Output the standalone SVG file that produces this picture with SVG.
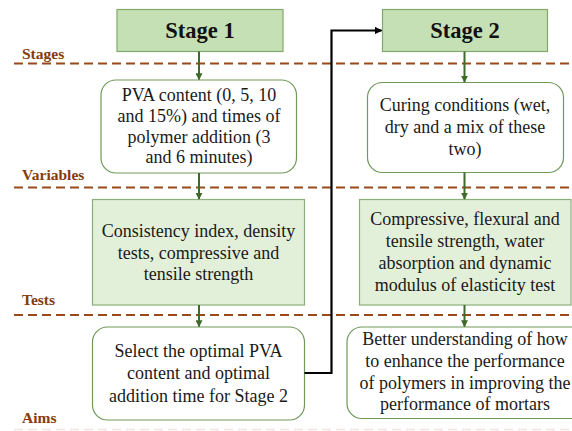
<svg xmlns="http://www.w3.org/2000/svg" width="572" height="431" viewBox="0 0 572 431">
<style>
.bg{fill:#ffffff}
.stage{fill:#c5e0b4;stroke:#82a86b;stroke-width:1.2}
.var{fill:#ffffff;stroke:#6f9a59;stroke-width:1.2}
.test{fill:#e2efd9;stroke:#8cb07a;stroke-width:1.2}
.t{font-family:"Liberation Serif","Times New Roman",serif;font-size:18px;fill:#1a1a1a;text-anchor:middle}
.h{font-family:"Liberation Serif","Times New Roman",serif;font-size:22.5px;font-weight:bold;fill:#111;text-anchor:middle}
.lab{font-family:"Liberation Serif","Times New Roman",serif;font-size:15.5px;font-weight:bold;fill:#843c0c}
.dash{stroke:#9a4a1a;stroke-width:2;stroke-dasharray:9,5;fill:none}
.arr{stroke:#3d6b2a;stroke-width:2;fill:none;marker-end:url(#ga)}
</style>
<defs>
<marker id="ga" viewBox="0 0 10 10" refX="9" refY="5" markerWidth="3.5" markerHeight="3.5" orient="auto" markerUnits="strokeWidth"><path d="M0,0L10,5L0,10z" fill="#3d6b2a"/></marker>
<marker id="ka" viewBox="0 0 10 10" refX="9" refY="5" markerWidth="3.5" markerHeight="3.5" orient="auto" markerUnits="strokeWidth"><path d="M0,0L10,5L0,10z" fill="#000"/></marker>
</defs>
<rect class="bg" x="0" y="0" width="572" height="431"/>
<g id="lanes">
<line class="dash" x1="14" y1="63.5" x2="572" y2="63.5"/>
<line class="dash" x1="14" y1="187.5" x2="572" y2="187.5"/>
<line class="dash" x1="14" y1="315" x2="572" y2="315"/>
<line x1="14" y1="429.5" x2="572" y2="429.5" stroke="#f2e4e0" stroke-width="1.5" stroke-dasharray="9,5"/>
<text class="lab" x="22" y="59">Stages</text>
<text class="lab" x="22" y="180">Variables</text>
<text class="lab" x="22" y="305">Tests</text>
<text class="lab" x="22" y="423">Aims</text>
</g>
<g id="stage1">
<rect class="stage" x="117" y="9.5" width="166" height="42"/>
<text class="h" x="200" y="38">Stage 1</text>
</g>
<g id="stage2">
<rect class="stage" x="382.5" y="9.5" width="165" height="42"/>
<text class="h" x="465" y="38">Stage 2</text>
</g>
<g id="var1">
<rect class="var" x="101" y="80" width="195.5" height="93" rx="15"/>
<text class="t" x="199" y="101">PVA content (0, 5, 10</text>
<text class="t" x="199" y="122">and 15%) and times of</text>
<text class="t" x="199" y="142.5">polymer addition (3</text>
<text class="t" x="199" y="163">and 6 minutes)</text>
</g>
<g id="var2">
<rect class="var" x="367.5" y="82.5" width="196" height="90" rx="15"/>
<text class="t" x="465" y="111">Curing conditions (wet,</text>
<text class="t" x="465" y="133">dry and a mix of these</text>
<text class="t" x="465" y="155">two)</text>
</g>
<g id="test1">
<rect class="test" x="92.5" y="199.5" width="212" height="105.5"/>
<text class="t" x="198.5" y="237">Consistency index, density</text>
<text class="t" x="198.5" y="258.5">tests, compressive and</text>
<text class="t" x="198.5" y="280">tensile strength</text>
</g>
<g id="test2">
<rect class="test" x="359.5" y="199.5" width="211.5" height="105.5"/>
<text class="t" x="465" y="225">Compressive, flexural and</text>
<text class="t" x="465" y="247">tensile strength, water</text>
<text class="t" x="465" y="268.5">absorption and dynamic</text>
<text class="t" x="465" y="291">modulus of elasticity test</text>
</g>
<g id="aim1">
<rect class="var" x="92.5" y="327" width="212" height="93" rx="15"/>
<text class="t" x="198.5" y="357">Select the optimal PVA</text>
<text class="t" x="198.5" y="379">content and optimal</text>
<text class="t" x="198.5" y="401.5">addition time for Stage 2</text>
</g>
<g id="aim2">
<rect class="var" x="347" y="327" width="240" height="91.5" rx="15"/>
<text class="t" x="465" y="345">Better understanding of how</text>
<text class="t" x="465" y="366.5">to enhance the performance</text>
<text class="t" x="465" y="388.5">of polymers in improving the</text>
<text class="t" x="465" y="410">performance of mortars</text>
</g>
<g id="connectors">
<line class="arr" x1="199" y1="51.5" x2="199" y2="79.5"/>
<line class="arr" x1="199" y1="173" x2="199" y2="199"/>
<line class="arr" x1="199" y1="305" x2="199" y2="326.5"/>
<line class="arr" x1="464.5" y1="51.5" x2="464.5" y2="82"/>
<line class="arr" x1="464.5" y1="172.5" x2="464.5" y2="199"/>
<line class="arr" x1="464.5" y1="305" x2="464.5" y2="326.5"/>
<polyline points="304.5,373 331.5,373 331.5,30.5 381.5,30.5" fill="none" stroke="#000" stroke-width="2.2" marker-end="url(#ka)"/>
</g>
</svg>
